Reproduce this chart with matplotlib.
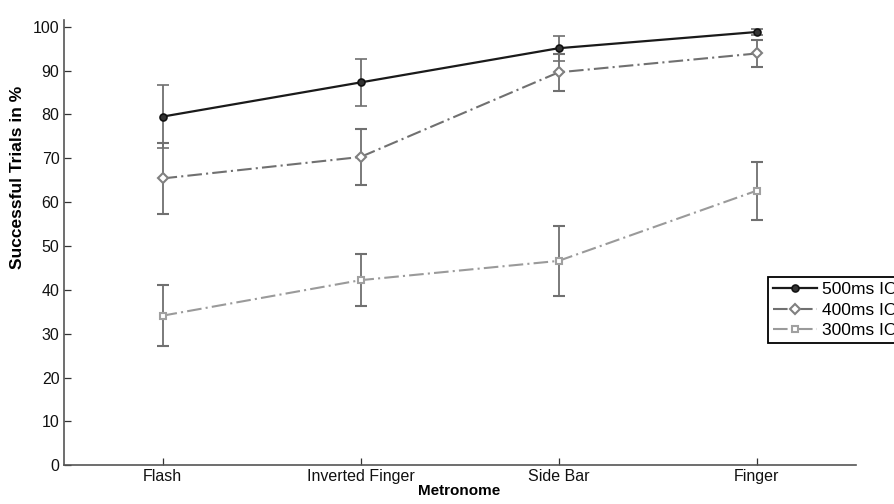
import numpy as np
import matplotlib
matplotlib.use('Agg')
import matplotlib.pyplot as plt
from matplotlib.lines import Line2D

plt.rcParams['font.family'] = ['Liberation Sans', 'DejaVu Sans']

# metronome conditions
categories = ['Flash', 'Inverted Finger', 'Side Bar', 'Finger']

# mean success (%) and error half-widths per IOI
ioi500 = [79.5, 87.3, 95.1, 98.8]
err500 = [7.1, 5.3, 2.9, 0.7]
ioi400 = [65.4, 70.3, 89.6, 93.9]
err400 = [8.0, 6.3, 4.2, 3.0]
ioi300 = [34.1, 42.2, 46.6, 62.6]
err300 = [7.0, 5.9, 8.0, 6.6]

labels = ['500ms IOI', '400ms IOI', '300ms IOI']
yticks = [0, 10, 20, 30, 40, 50, 60, 70, 80, 90, 100]


def main():
    fig = plt.figure(figsize=(8.95, 5.04), dpi=100)
    ax = fig.add_axes([0.071, 0.077, 0.885, 0.883])
    x = np.arange(1, len(categories) + 1)

    styles = [
        dict(color='#1a1a1a', lw=1.6, ls='-', marker='o', ms=5,
             mfc='#333333', mec='#111111', mew=1.2),
        dict(color='#707070', lw=1.5, ls=(0, (7, 2, 1, 2)), marker='D', ms=5,
             mfc='white', mec='#808080', mew=1.5),
        dict(color='#9a9a9a', lw=1.5, ls=(0, (7, 2, 1, 2)), marker='s', ms=5,
             mfc='white', mec='#a0a0a0', mew=1.5),
    ]
    series = [(ioi500, err500), (ioi400, err400), (ioi300, err300)]

    handles = []
    for (vals, errs), st, lab in zip(series, styles, labels):
        cont = ax.errorbar(x, vals, yerr=errs, ecolor='#707070', elinewidth=1.3,
                           capsize=4.3, capthick=1.2, **st)
        for cap in cont[1]:
            cap.set_color('#2a2a2a')
        handles.append(Line2D([], [], label=lab, **st))

    ax.set_xlim(0.5, 4.5)
    ax.set_ylim(0, 101.5)
    ax.set_xticks(x)
    ax.set_xticklabels(categories)
    ax.set_yticks(yticks)

    for s in ['top', 'right']:
        ax.spines[s].set_visible(False)
    for s in ['left', 'bottom']:
        ax.spines[s].set_color('#555555')
        ax.spines[s].set_linewidth(1.2)
    ax.tick_params(direction='in', length=5, width=0.9, color='#333333',
                   labelsize=11.5, labelcolor='#111111', pad=3)

    ax.set_xlabel('Metronome', fontsize=11, fontweight='bold', labelpad=0)
    ax.set_ylabel('Successful Trials in %', fontsize=12.5, fontweight='bold')
    # label sits above the axis centre in the original export
    ax.yaxis.set_label_coords(-0.049, 0.647)

    leg = ax.legend(handles=handles, loc='upper left',
                    bbox_to_anchor=(768 / 895, 1 - 277 / 504),
                    bbox_transform=fig.transFigure, fontsize=12.5,
                    frameon=True, fancybox=False, framealpha=1,
                    handlelength=2.5, handletextpad=0.3, borderpad=0.3,
                    labelspacing=0.3, borderaxespad=0)
    leg.get_frame().set_edgecolor('black')
    leg.get_frame().set_linewidth(1.3)

    fig.savefig('out.png', dpi=100)


if __name__ == "__main__":
    main()
